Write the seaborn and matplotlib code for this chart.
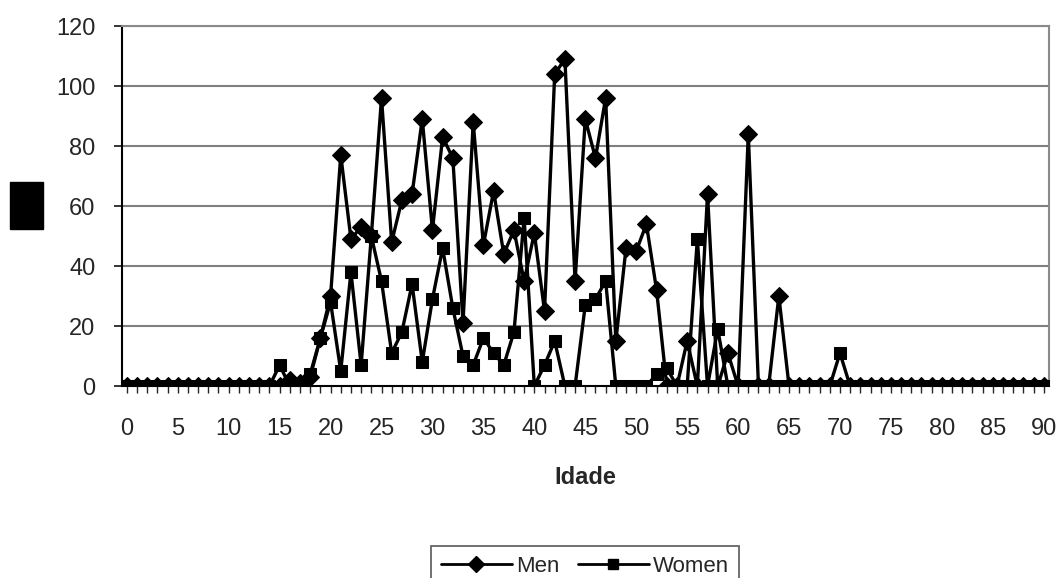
import numpy as np
import pandas as pd
import matplotlib
matplotlib.use("Agg")
import matplotlib.pyplot as plt
from matplotlib import font_manager
from matplotlib.patches import Rectangle
from matplotlib.lines import Line2D
import seaborn as sns

ages = list(range(0, 91))
men = [0, 0, 0, 0, 0, 0, 0, 0, 0, 0,
       0, 0, 0, 0, 0, 0, 2, 1, 3, 16,
       30, 77, 49, 53, 50, 96, 48, 62, 64, 89,
       52, 83, 76, 21, 88, 47, 65, 44, 52, 35,
       51, 25, 104, 109, 35, 89, 76, 96, 15, 46,
       45, 54, 32, 0, 0, 15, 0, 64, 0, 11,
       0, 84, 0, 0, 30, 0, 0, 0, 0, 0,
       0, 0, 0, 0, 0, 0, 0, 0, 0, 0,
       0, 0, 0, 0, 0, 0, 0, 0, 0, 0,
       0]
women = [0, 0, 0, 0, 0, 0, 0, 0, 0, 0,
         0, 0, 0, 0, 0, 7, 0, 1, 4, 16,
         28, 5, 38, 7, 50, 35, 11, 18, 34, 8,
         29, 46, 26, 10, 7, 16, 11, 7, 18, 56,
         0, 7, 15, 0, 0, 27, 29, 35, 0, 0,
         0, 0, 4, 6, 0, 0, 49, 0, 19, 0,
         0, 0, 0, 0, 0, 0, 0, 0, 0, 0,
         11, 0, 0, 0, 0, 0, 0, 0, 0, 0,
         0, 0, 0, 0, 0, 0, 0, 0, 0, 0,
         0]
series_names = ["Men", "Women"]
y_ticks = [0, 20, 40, 60, 80, 100, 120]
x_label_ticks = list(range(0, 91, 5))
x_title = "Idade"

df = pd.DataFrame({
    "Idade": ages * 2,
    "Valor": men + women,
    "Sexo": ["Men"] * len(ages) + ["Women"] * len(ages),
})

sns.set_style("white")
names = {f.name for f in font_manager.fontManager.ttflist}
tick_font = "Liberation Sans Narrow" if "Liberation Sans Narrow" in names else "Liberation Sans"
plt.rcParams["font.family"] = ["Liberation Sans", "DejaVu Sans"]

fig = plt.figure(figsize=(10.62, 5.78), dpi=100)
ax = fig.add_axes([0.1146, 0.332, 0.873, 0.623])

sns.lineplot(data=df, x="Idade", y="Valor", hue="Sexo", style="Sexo",
             markers={"Men": "D", "Women": "s"}, dashes=False,
             palette={"Men": "black", "Women": "black"},
             markersize=9, markeredgecolor="black", linewidth=2.4,
             ax=ax, legend=False, zorder=3)

ax.set_xlim(-0.5, 90.5)
ax.set_ylim(0, 120)
ax.set_yticks(y_ticks)
ax.set_yticklabels([str(v) for v in y_ticks], fontfamily=tick_font, fontsize=17)
ax.set_xticks(ages)
ax.set_xticklabels([str(a) if a in x_label_ticks else "" for a in ages],
                   fontfamily=tick_font, fontsize=17)
ax.tick_params(axis="y", direction="out", length=6, width=1.3, pad=13, left=True)
ax.tick_params(axis="x", direction="out", length=5, width=1.0, pad=18, bottom=True)

for y in y_ticks[1:]:
    ax.axhline(y, color="#7f7f7f", lw=1.5, zorder=1)

ax.spines["left"].set_color("black")
ax.spines["left"].set_linewidth(1.5)
ax.spines["bottom"].set_color("black")
ax.spines["bottom"].set_linewidth(1.5)
for s in ["top", "right"]:
    ax.spines[s].set_color("#8a8a8a")
    ax.spines[s].set_linewidth(1.5)

ax.set_xlabel(x_title, fontsize=17, fontweight="bold", labelpad=19)
ax.set_ylabel("")

# redacted y-axis label block
fig.patches.append(Rectangle((10 / 1062, 1 - 229 / 578), 33 / 1062, 47 / 578,
                             transform=fig.transFigure, facecolor="black",
                             edgecolor="black"))

handles = [Line2D([], [], color="black", lw=2, marker="D", markersize=8),
           Line2D([], [], color="black", lw=2, marker="s", markersize=7)]
leg = fig.legend(handles, series_names, loc="upper center",
                 bbox_to_anchor=(585 / 1062, 1 - 535 / 578), ncol=2,
                 frameon=True, fancybox=False, edgecolor="#404040",
                 fontsize=16, handlelength=3.2, columnspacing=0.8,
                 handletextpad=0.2, borderpad=0.45)
leg.get_frame().set_linewidth(1.3)

fig.savefig("out.png", dpi=100, facecolor="white")
